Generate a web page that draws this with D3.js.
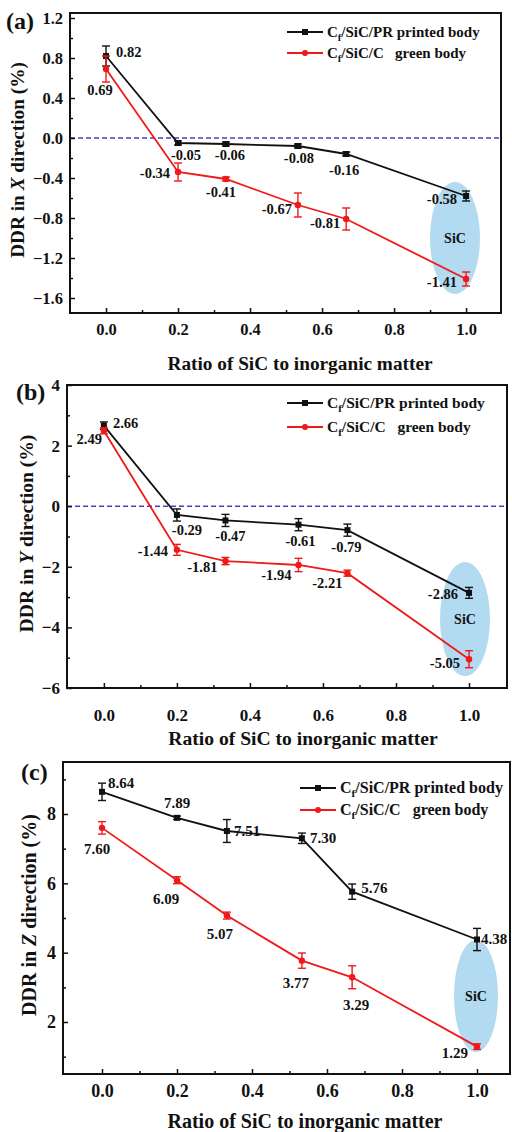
<!DOCTYPE html>
<html>
<head>
<meta charset="utf-8">
<script src="https://cdn.jsdelivr.net/npm/d3@7/dist/d3.min.js"></script>
<style>
  html, body { margin: 0; padding: 0; background: #fff; }
  svg { display: block; }
  text { font-family: "Liberation Serif", "Times New Roman", serif; font-weight: bold; fill: #111; }
</style>
</head>
<body>
<script>
// ---- data ---------------------------------------------------------------
const ratio = [0, 0.2, 0.333, 0.533, 0.667, 1.0];
const xTicks = [0, 0.2, 0.4, 0.6, 0.8, 1.0];
const xMinorTicks = [0.1, 0.3, 0.5, 0.7, 0.9];

const seriesNames = ["C|f|/SiC/PR printed body", "C|f|/SiC/C   green body"];

// (a) X direction
const printedX = [0.82, -0.05, -0.06, -0.08, -0.16, -0.58];
const printedXErr = [0.10, 0.02, 0.02, 0.02, 0.02, 0.05];
const greenX = [0.69, -0.34, -0.41, -0.67, -0.81, -1.41];
const greenXErr = [0.13, 0.09, 0.02, 0.12, 0.11, 0.07];
const yTicksX = [1.2, 0.8, 0.4, 0.0, -0.4, -0.8, -1.2, -1.6];
const yMinorX = [1.0, 0.6, 0.2, -0.2, -0.6, -1.0, -1.4];

// (b) Y direction
const printedY = [2.66, -0.29, -0.47, -0.61, -0.79, -2.86];
const printedYErr = [0.12, 0.20, 0.20, 0.20, 0.20, 0.18];
const greenY = [2.49, -1.44, -1.81, -1.94, -2.21, -5.05];
const greenYErr = [0.10, 0.18, 0.12, 0.22, 0.10, 0.28];
const yTicksY = [4, 2, 0, -2, -4, -6];
const yMinorY = [3, 1, -1, -3, -5];

// (c) Z direction
const printedZ = [8.64, 7.89, 7.51, 7.30, 5.76, 4.38];
const printedZErr = [0.25, 0.05, 0.33, 0.15, 0.22, 0.32];
const greenZ = [7.60, 6.09, 5.07, 3.77, 3.29, 1.29];
const greenZErr = [0.18, 0.10, 0.10, 0.22, 0.33, 0.08];
const yTicksZ = [8, 6, 4, 2];
const yMinorZ = [9, 7, 5, 3, 1];

// ---- layout ---------------------------------------------------------------
const W = 512, H = 1132;
const BLACK = "#111", RED = "#f01818", ZERO = "#4a3cc8", ELL = "#b2daf0";

const panels = [
  {
    tag: "(a)", axisLetter: "X", printed: printedX, printedErr: printedXErr,
    green: greenX, greenErr: greenXErr, yTicks: yTicksX, yMinor: yMinorX, fmt: d3.format(".1f"),
    left: 70, right: 501, top: 13, bottom: 313, xDom: [-0.1, 1.097], yDom: [-1.75, 1.25],
    tagPos: [6, 29], yLabelX: 24, xTitle: [300, 370], tickPad: 10, legend: [287, 32, 21], zeroLine: true,
    fs: { tick: 16.5, title: 19.3, val: 14.5, leg: 15 },
    ellipse: { cx: 455, cy: 238, rx: 25, ry: 56 },
    printedLbl: [[10, 1, "start"], [8, 17, "middle"], [4, 16, "middle"], [1, 17, "middle"], [-2, 21, "middle"], [-9, 8, "end"]],
    greenLbl: [[-6, 26, "middle"], [-8, 6, "end"], [-5, 18, "middle"], [-6, 9, "end"], [-6, 9, "end"], [-9, 8, "end"]]
  },
  {
    tag: "(b)", axisLetter: "Y", printed: printedY, printedErr: printedYErr,
    green: greenY, greenErr: greenYErr, yTicks: yTicksY, yMinor: yMinorY, fmt: d3.format("d"),
    left: 67, right: 507, top: 385, bottom: 688, xDom: [-0.101, 1.104], yDom: [-6, 4],
    tagPos: [16, 400], yLabelX: 33, xTitle: [303, 745], tickPad: 21, legend: [287, 403, 24], zeroLine: true,
    fs: { tick: 17, title: 19.6, val: 14.5, leg: 15.5 },
    ellipse: { cx: 465, cy: 619, rx: 25, ry: 57 },
    printedLbl: [[9, 2, "start"], [10, 20, "middle"], [5, 21, "middle"], [2, 21, "middle"], [-1, 22, "middle"], [-11, 6, "end"]],
    greenLbl: [[-2, 13, "end"], [-9, 6, "end"], [-8, 11, "end"], [-7, 15, "end"], [-5, 15, "end"], [-9, 9, "end"]]
  },
  {
    tag: "(c)", axisLetter: "Z", printed: printedZ, printedErr: printedZErr,
    green: greenZ, greenErr: greenZErr, yTicks: yTicksZ, yMinor: yMinorZ, fmt: d3.format("d"),
    left: 63, right: 510, top: 762, bottom: 1074, xDom: [-0.104, 1.088], yDom: [0.5, 9.5],
    tagPos: [21, 780], yLabelX: 36, xTitle: [305, 1128], tickPad: 10, legend: [300, 788, 22], zeroLine: false,
    fs: { tick: 18, title: 20, val: 15, leg: 16 },
    ellipse: { cx: 476, cy: 996, rx: 22, ry: 56 },
    printedLbl: [[6, -4, "start"], [0, -10, "middle"], [7, 5, "start"], [8, 5, "start"], [9, 1, "start"], [4, 5, "start"]],
    greenLbl: [[-5, 26, "middle"], [-11, 24, "middle"], [-7, 23, "middle"], [-6, 27, "middle"], [4, 33, "middle"], [-9, 11, "end"]]
  }
];

const svg = d3.select("body").append("svg").attr("width", W).attr("height", H);

// Writes "C|f|/SiC..." as text with the middle segment as a subscript
function richLabel(sel, str) {
  const parts = str.split("|");
  parts.forEach((p, i) => {
    const t = sel.append("tspan").text(p);
    if (i === 1) t.attr("font-size", "0.7em").attr("dy", 4);
    if (i === 2) t.attr("dy", -4);
  });
}

panels.forEach(p => {
  const g = svg.append("g");
  const x = d3.scaleLinear().domain(p.xDom).range([p.left, p.right]);
  const y = d3.scaleLinear().domain(p.yDom).range([p.bottom, p.top]);

  // highlight ellipse for the pure-SiC sample
  g.append("ellipse")
    .attr("cx", p.ellipse.cx).attr("cy", p.ellipse.cy)
    .attr("rx", p.ellipse.rx).attr("ry", p.ellipse.ry)
    .attr("fill", ELL);
  g.append("text").attr("x", p.ellipse.cx).attr("y", p.ellipse.cy + 5)
    .attr("text-anchor", "middle").attr("font-size", 14).text("SiC");

  // zero reference line
  if (p.zeroLine) {
    g.append("line")
      .attr("x1", p.left).attr("x2", p.right)
      .attr("y1", y(0)).attr("y2", y(0))
      .attr("stroke", ZERO).attr("stroke-width", 1.6)
      .attr("stroke-dasharray", "5,3");
  }

  // axes (ticks point inward)
  const xAxis = d3.axisBottom(x).tickValues(xTicks).tickFormat(d3.format(".1f"))
    .tickSizeInner(-5).tickSizeOuter(0).tickPadding(p.tickPad);
  const xMinor = d3.axisBottom(x).tickValues(xMinorTicks).tickFormat("")
    .tickSizeInner(-3).tickSizeOuter(0);
  const yAxis = d3.axisLeft(y).tickValues(p.yTicks).tickFormat(p.fmt)
    .tickSizeInner(-5).tickSizeOuter(0).tickPadding(7);
  const yMinor = d3.axisLeft(y).tickValues(p.yMinor).tickFormat("")
    .tickSizeInner(-3).tickSizeOuter(0);

  [[xAxis, `translate(0,${p.bottom})`], [xMinor, `translate(0,${p.bottom})`],
   [yAxis, `translate(${p.left},0)`], [yMinor, `translate(${p.left},0)`]].forEach(([ax, tr]) => {
    const a = g.append("g").attr("transform", tr).call(ax);
    a.select(".domain").remove();
    a.selectAll("line").attr("stroke", BLACK).attr("stroke-width", 1.5);
    a.selectAll("text").attr("font-size", p.fs.tick).attr("fill", BLACK)
      .attr("font-family", "Liberation Serif, serif").attr("font-weight", "bold");
  });

  // frame
  g.append("rect")
    .attr("x", p.left).attr("y", p.top)
    .attr("width", p.right - p.left).attr("height", p.bottom - p.top)
    .attr("fill", "none").attr("stroke", BLACK).attr("stroke-width", 2);

  // series
  const drawSeries = (vals, errs, color, marker, lbl) => {
    const pts = ratio.map((r, i) => ({ r, v: vals[i], e: errs[i], i }));
    g.append("path").datum(pts)
      .attr("d", d3.line().x(d => x(d.r)).y(d => y(d.v)))
      .attr("fill", "none").attr("stroke", color).attr("stroke-width", 1.8);

    const eb = g.append("g").attr("stroke", color).attr("stroke-width", 1.4);
    pts.forEach(d => {
      const cx = x(d.r), y1 = y(d.v + d.e), y2 = y(d.v - d.e);
      eb.append("line").attr("x1", cx).attr("x2", cx).attr("y1", y1).attr("y2", y2);
      eb.append("line").attr("x1", cx - 4).attr("x2", cx + 4).attr("y1", y1).attr("y2", y1);
      eb.append("line").attr("x1", cx - 4).attr("x2", cx + 4).attr("y1", y2).attr("y2", y2);
    });

    if (marker === "square") {
      g.selectAll(null).data(pts).join("rect")
        .attr("x", d => x(d.r) - 3).attr("y", d => y(d.v) - 3)
        .attr("width", 6).attr("height", 6).attr("fill", color);
    } else {
      g.selectAll(null).data(pts).join("circle")
        .attr("cx", d => x(d.r)).attr("cy", d => y(d.v)).attr("r", 3.2).attr("fill", color);
    }

    g.selectAll(null).data(pts).join("text")
      .attr("x", d => x(d.r) + lbl[d.i][0])
      .attr("y", d => y(d.v) + lbl[d.i][1])
      .attr("text-anchor", d => lbl[d.i][2])
      .attr("font-size", p.fs.val)
      .text(d => d.v.toFixed(2));
  };

  drawSeries(p.printed, p.printedErr, BLACK, "square", p.printedLbl);
  drawSeries(p.green, p.greenErr, RED, "circle", p.greenLbl);

  // legend
  const [lx, ly, lgap] = p.legend;
  [[BLACK, "square"], [RED, "circle"]].forEach(([c, m], i) => {
    const yy = ly + i * lgap;
    g.append("line").attr("x1", lx).attr("x2", lx + 36).attr("y1", yy).attr("y2", yy)
      .attr("stroke", c).attr("stroke-width", 1.8);
    if (m === "square") {
      g.append("rect").attr("x", lx + 15).attr("y", yy - 3).attr("width", 6).attr("height", 6).attr("fill", c);
    } else {
      g.append("circle").attr("cx", lx + 18).attr("cy", yy).attr("r", 3).attr("fill", c);
    }
    const t = g.append("text").attr("x", lx + 40).attr("y", yy + 5)
      .attr("font-size", p.fs.leg).style("white-space", "pre");
    richLabel(t, seriesNames[i]);
  });

  // panel tag
  g.append("text").attr("x", p.tagPos[0]).attr("y", p.tagPos[1])
    .attr("font-size", 24).text(p.tag);

  // axis titles
  g.append("text").attr("x", p.xTitle[0]).attr("y", p.xTitle[1])
    .attr("text-anchor", "middle").attr("font-size", p.fs.title)
    .text("Ratio of SiC to inorganic matter");

  const yl = g.append("text")
    .attr("transform", `translate(${p.yLabelX},${(p.top + p.bottom) / 2 - 3}) rotate(-90)`)
    .attr("text-anchor", "middle").attr("font-size", p.fs.title)
    .style("white-space", "pre");
  yl.append("tspan").text("DDR in ");
  yl.append("tspan").attr("font-style", "italic").text(p.axisLetter);
  yl.append("tspan").text(" direction (%)");
});
</script>
</body>
</html>
